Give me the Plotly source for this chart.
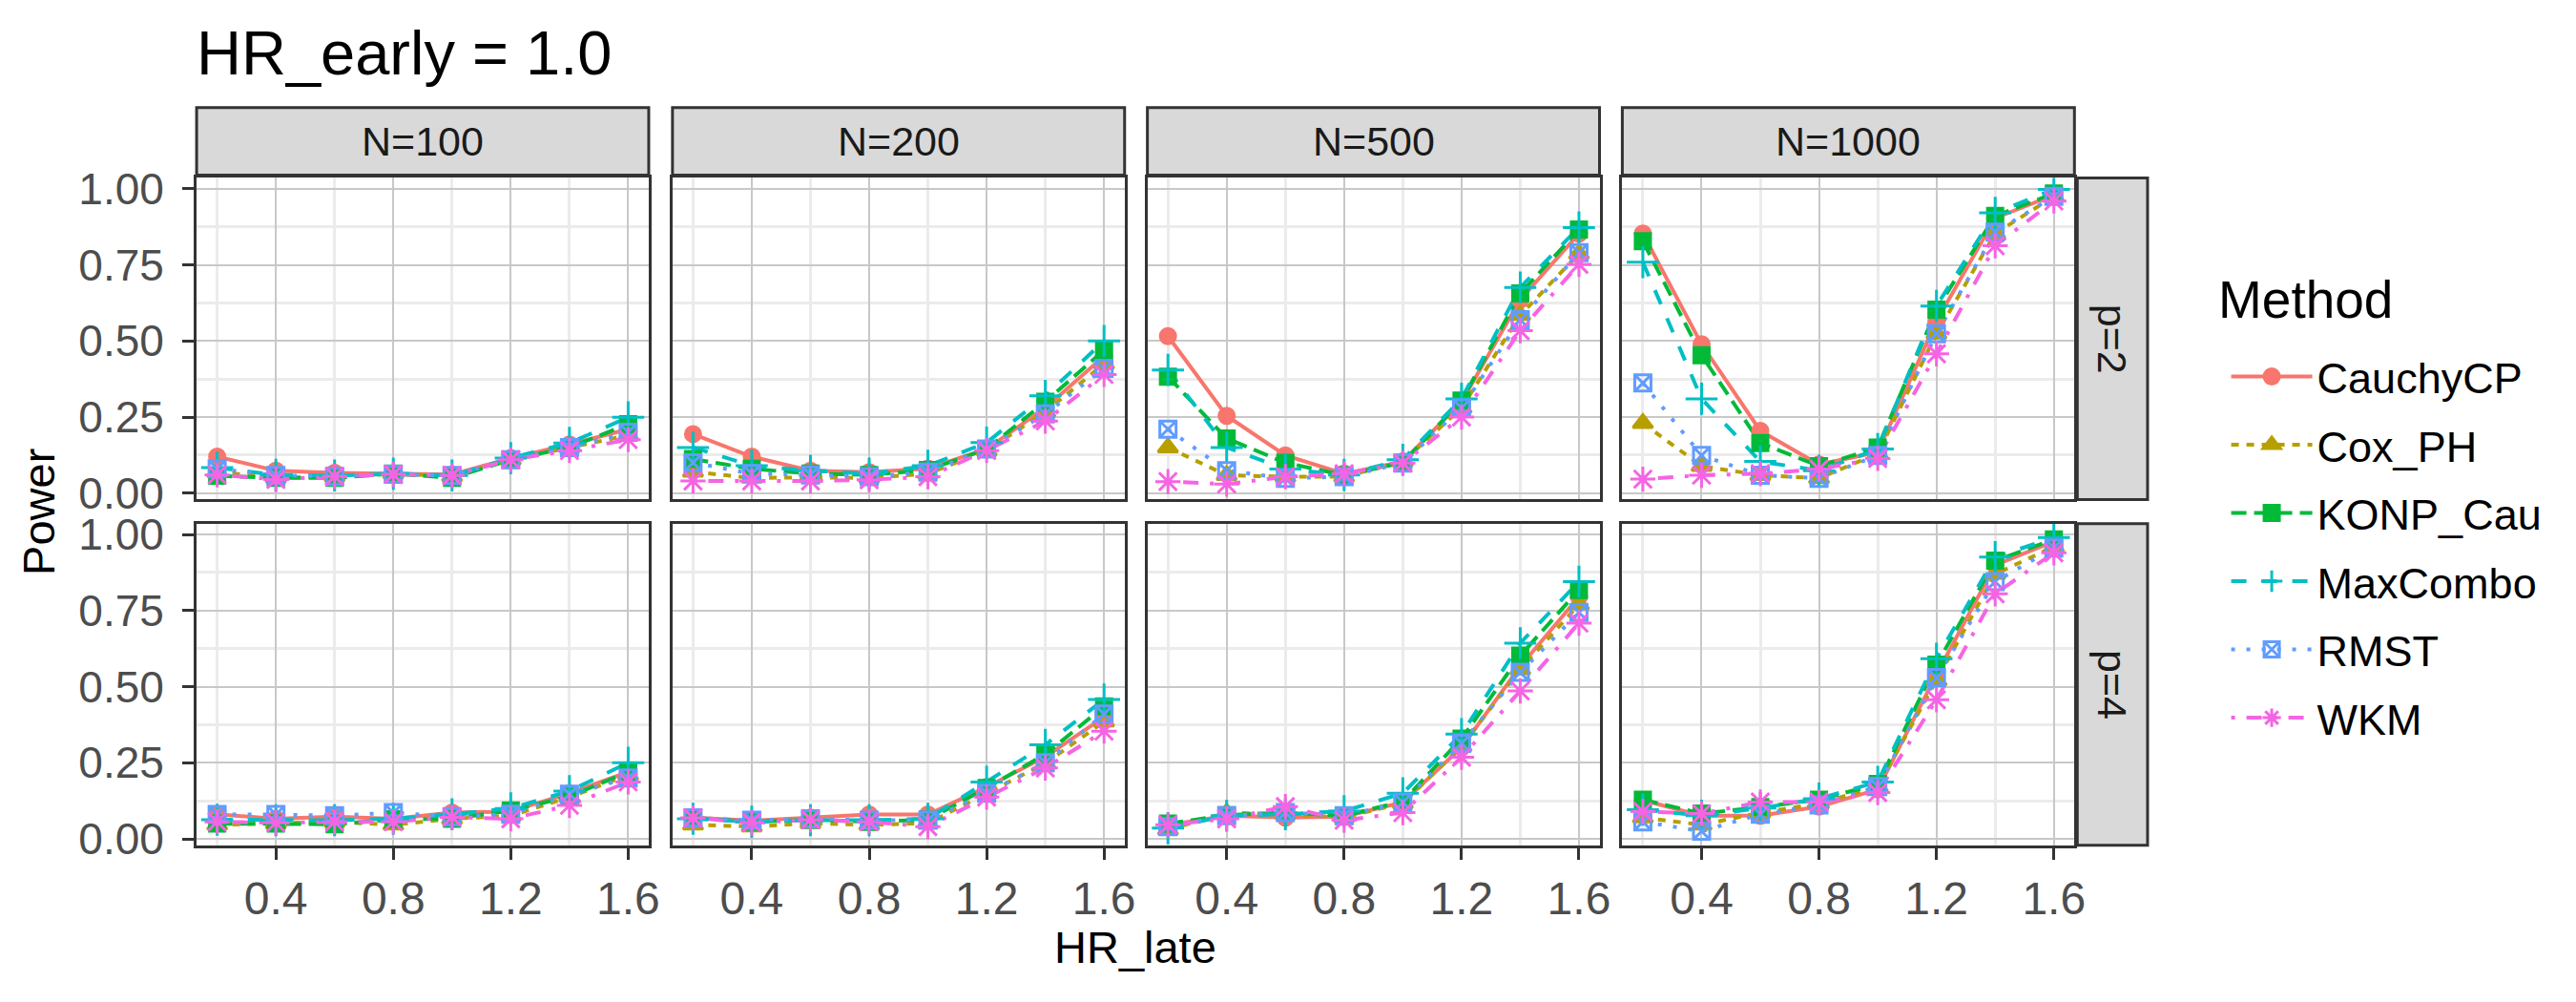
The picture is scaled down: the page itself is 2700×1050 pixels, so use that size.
import plotly.graph_objects as go

# x positions (HR_late)
hr_late = [0.2, 0.4, 0.6, 0.8, 1.0, 1.2, 1.4, 1.6]
n_labels = ["N=100", "N=200", "N=500", "N=1000"]
p_labels = ["p=2", "p=4"]
methods = ["CauchyCP", "Cox_PH", "KONP_Cau", "MaxCombo", "RMST", "WKM"]

# power values, one list per N (100, 200, 500, 1000)
cauchy_p2 = [[0.12, 0.074, 0.067, 0.064, 0.061, 0.115, 0.16, 0.21],
             [0.194, 0.12, 0.074, 0.069, 0.081, 0.145, 0.28, 0.45],
             [0.516, 0.254, 0.124, 0.064, 0.104, 0.30, 0.636, 0.853],
             [0.853, 0.489, 0.205, 0.094, 0.135, 0.565, 0.904, 0.98]]
cox_p2 = [[0.07, 0.05, 0.055, 0.064, 0.055, 0.11, 0.15, 0.19],
          [0.07, 0.05, 0.052, 0.05, 0.064, 0.14, 0.267, 0.425],
          [0.15, 0.059, 0.054, 0.054, 0.104, 0.28, 0.585, 0.787],
          [0.23, 0.089, 0.059, 0.049, 0.13, 0.524, 0.853, 0.975]]
konp_p2 = [[0.057, 0.05, 0.05, 0.064, 0.05, 0.11, 0.15, 0.227],
           [0.112, 0.08, 0.064, 0.06, 0.076, 0.145, 0.30, 0.47],
           [0.383, 0.18, 0.10, 0.059, 0.10, 0.304, 0.656, 0.866],
           [0.828, 0.453, 0.165, 0.089, 0.15, 0.603, 0.911, 0.985]]
maxcombo_p2 = [[0.084, 0.06, 0.058, 0.064, 0.058, 0.115, 0.165, 0.249],
               [0.15, 0.09, 0.074, 0.064, 0.09, 0.166, 0.32, 0.50],
               [0.405, 0.15, 0.079, 0.06, 0.11, 0.31, 0.676, 0.873],
               [0.759, 0.31, 0.104, 0.074, 0.145, 0.615, 0.921, 0.998]]
rmst_p2 = [[0.08, 0.058, 0.055, 0.062, 0.058, 0.11, 0.15, 0.20],
           [0.10, 0.064, 0.06, 0.054, 0.069, 0.145, 0.26, 0.41],
           [0.21, 0.074, 0.049, 0.054, 0.099, 0.28, 0.57, 0.79],
           [0.362, 0.124, 0.059, 0.049, 0.124, 0.524, 0.858, 0.975]]
wkm_p2 = [[0.06, 0.045, 0.055, 0.062, 0.058, 0.11, 0.14, 0.176],
          [0.04, 0.04, 0.04, 0.044, 0.054, 0.14, 0.237, 0.39],
          [0.038, 0.03, 0.054, 0.064, 0.099, 0.25, 0.534, 0.752],
          [0.046, 0.059, 0.064, 0.079, 0.114, 0.458, 0.813, 0.96]]

cauchy_p4 = [[0.081, 0.066, 0.073, 0.066, 0.086, 0.09, 0.15, 0.22],
             [0.07, 0.06, 0.07, 0.08, 0.08, 0.17, 0.27, 0.40],
             [0.046, 0.076, 0.07, 0.073, 0.12, 0.30, 0.567, 0.795],
             [0.127, 0.076, 0.076, 0.106, 0.162, 0.54, 0.90, 0.977]]
cox_p4 = [[0.046, 0.05, 0.056, 0.046, 0.066, 0.076, 0.137, 0.21],
          [0.046, 0.04, 0.051, 0.046, 0.051, 0.15, 0.248, 0.385],
          [0.03, 0.086, 0.081, 0.071, 0.117, 0.304, 0.557, 0.77],
          [0.07, 0.046, 0.086, 0.116, 0.172, 0.52, 0.87, 0.96]]
konp_p4 = [[0.05, 0.05, 0.048, 0.064, 0.066, 0.093, 0.139, 0.22],
           [0.069, 0.056, 0.063, 0.056, 0.063, 0.167, 0.278, 0.435],
           [0.05, 0.078, 0.086, 0.076, 0.123, 0.329, 0.602, 0.818],
           [0.129, 0.083, 0.104, 0.129, 0.18, 0.572, 0.914, 0.984]]
maxcombo_p4 = [[0.063, 0.061, 0.061, 0.066, 0.081, 0.10, 0.157, 0.25],
               [0.066, 0.056, 0.061, 0.061, 0.066, 0.187, 0.309, 0.458],
               [0.035, 0.076, 0.081, 0.091, 0.15, 0.344, 0.643, 0.845],
               [0.096, 0.076, 0.101, 0.132, 0.187, 0.592, 0.926, 0.99]]
rmst_p4 = [[0.08, 0.08, 0.076, 0.086, 0.073, 0.081, 0.147, 0.20],
           [0.069, 0.061, 0.066, 0.061, 0.061, 0.15, 0.25, 0.41],
           [0.04, 0.076, 0.086, 0.076, 0.12, 0.314, 0.547, 0.744],
           [0.056, 0.025, 0.081, 0.111, 0.172, 0.53, 0.845, 0.956]]
wkm_p4 = [[0.056, 0.053, 0.056, 0.056, 0.071, 0.066, 0.11, 0.187],
          [0.069, 0.053, 0.063, 0.056, 0.04, 0.137, 0.233, 0.354],
          [0.046, 0.066, 0.106, 0.061, 0.086, 0.268, 0.486, 0.709],
          [0.09, 0.083, 0.121, 0.121, 0.152, 0.457, 0.805, 0.94]]

data_p = [
    [cauchy_p2, cox_p2, konp_p2, maxcombo_p2, rmst_p2, wkm_p2],
    [cauchy_p4, cox_p4, konp_p4, maxcombo_p4, rmst_p4, wkm_p4],
]

# ggplot-like styling per method
colors = ["#F8766D", "#B79F00", "#00BA38", "#00BFC4", "#619CFF", "#F564E3"]
symbols = ["circle", "triangle-up", "square", "cross-thin-open", "square-x-open", "asterisk-open"]
msizes = [16, 18, 16, 24, 17, 22]
dashes = ["solid", "8px,8px", "16px,8px", "16px,16px", "4px,12px", "4px,12px,16px,12px"]

W, H = 2700, 1050
col_px = [(207, 683), (708, 1184), (1208, 1684), (1708, 2184)]
row_px = [(178, 526), (552, 900)]
FONT = "Liberation Sans, Arial, sans-serif"
border = "#333333"

fig = go.Figure()
layout = {}

for r in range(2):
    for c in range(4):
        k = r * 4 + c + 1
        xn = "x" if k == 1 else f"x{k}"
        yn = "y" if k == 1 else f"y{k}"
        bottom = r == 1
        left = c == 0
        layout["xaxis" if k == 1 else f"xaxis{k}"] = dict(
            domain=[col_px[c][0] / W, col_px[c][1] / W], anchor=yn,
            range=[0.13, 1.67], tickvals=[0.4, 0.8, 1.2, 1.6],
            ticktext=["0.4", "0.8", "1.2", "1.6"],
            showticklabels=bottom, ticks="outside" if bottom else "",
            ticklen=12, tickwidth=3, tickcolor=border,
            tickfont=dict(size=48, color="#4D4D4D", family=FONT),
            showgrid=True, gridcolor="#C8C8C8", gridwidth=1.5,
            minor=dict(tickvals=[0.2, 0.6, 1.0, 1.4], showgrid=True,
                       gridcolor="#EBEBEB", gridwidth=2.5, ticks=""),
            showline=True, mirror=True, linecolor=border, linewidth=3,
            zeroline=False,
        )
        layout["yaxis" if k == 1 else f"yaxis{k}"] = dict(
            domain=[1 - row_px[r][1] / H, 1 - row_px[r][0] / H], anchor=xn,
            range=[-0.021, 1.036], tickvals=[0, 0.25, 0.5, 0.75, 1.0],
            ticktext=["0.00", "0.25", "0.50", "0.75", "1.00"],
            showticklabels=left, ticks="outside" if left else "",
            ticklen=12, tickwidth=3, tickcolor=border, ticklabelstandoff=10,
            tickfont=dict(size=46, color="#4D4D4D", family=FONT),
            showgrid=True, gridcolor="#C8C8C8", gridwidth=1.5,
            minor=dict(tickvals=[0.125, 0.375, 0.625, 0.875], showgrid=True,
                       gridcolor="#EBEBEB", gridwidth=2.5, ticks=""),
            showline=True, mirror=True, linecolor=border, linewidth=3,
            zeroline=False,
        )
        # lines first, then points (ggplot layer order)
        for m in range(6):
            fig.add_trace(go.Scatter(
                x=hr_late, y=data_p[r][m][c], mode="lines", xaxis=xn, yaxis=yn,
                line=dict(color=colors[m], width=4, dash=dashes[m]),
                showlegend=False, hoverinfo="skip"))
        for m in range(6):
            fig.add_trace(go.Scatter(
                x=hr_late, y=data_p[r][m][c], mode="markers", xaxis=xn, yaxis=yn,
                marker=dict(color=colors[m], symbol=symbols[m], size=msizes[m],
                            line=dict(color=colors[m], width=3)),
                showlegend=False, name=methods[m]))

# legend entries
for m in range(6):
    fig.add_trace(go.Scatter(
        x=[None], y=[None], mode="lines+markers", name=methods[m],
        legendgroup=methods[m],
        line=dict(color=colors[m], width=4, dash=dashes[m]),
        marker=dict(color=colors[m], symbol=symbols[m], size=msizes[m],
                    line=dict(color=colors[m], width=3)),
        showlegend=True))

shapes = []
annotations = []
# top strips
for c in range(4):
    shapes.append(dict(type="rect", xref="paper", yref="paper",
                       x0=col_px[c][0] / W, x1=col_px[c][1] / W,
                       y0=1 - 175 / H, y1=1 - 102 / H,
                       fillcolor="#D9D9D9", line=dict(color=border, width=3)))
    annotations.append(dict(text=n_labels[c], xref="paper", yref="paper",
                            x=(col_px[c][0] + col_px[c][1]) / 2 / W, y=1 - 138.5 / H,
                            xanchor="center", yanchor="middle", showarrow=False,
                            font=dict(size=43, color="#1A1A1A", family=FONT)))
# right strips
for r in range(2):
    shapes.append(dict(type="rect", xref="paper", yref="paper",
                       x0=2187 / W, x1=2261 / W,
                       y0=1 - row_px[r][1] / H, y1=1 - row_px[r][0] / H,
                       fillcolor="#D9D9D9", line=dict(color=border, width=3)))
    annotations.append(dict(text=p_labels[r], xref="paper", yref="paper",
                            x=2224 / W, y=1 - (row_px[r][0] + row_px[r][1]) / 2 / H,
                            xanchor="center", yanchor="middle", textangle=90, showarrow=False,
                            font=dict(size=43, color="#1A1A1A", family=FONT)))

# axis titles, legend title and main title
annotations.append(dict(text="Power", xref="paper", yref="paper", x=40 / W, y=1 - 539 / H,
                        xanchor="center", yanchor="middle", textangle=-90, showarrow=False,
                        font=dict(size=47, color="black", family=FONT)))
annotations.append(dict(text="HR_late", xref="paper", yref="paper", x=1195 / W, y=1 - 1010 / H,
                        xanchor="center", yanchor="middle", showarrow=False,
                        font=dict(size=47, color="black", family=FONT)))
annotations.append(dict(text="HR_early = 1.0", xref="paper", yref="paper", x=205 / W, y=1 - 43 / H,
                        xanchor="left", yanchor="middle", showarrow=False,
                        font=dict(size=65, color="black", family=FONT)))
annotations.append(dict(text="Method", xref="paper", yref="paper", x=2333 / W, y=1 - 310 / H,
                        xanchor="left", yanchor="middle", showarrow=False,
                        font=dict(size=55, color="black", family=FONT)))

fig.update_layout(
    width=W, height=H, margin=dict(l=0, r=0, t=0, b=0),
    paper_bgcolor="white", plot_bgcolor="white",
    shapes=shapes, annotations=annotations,
    legend=dict(x=2344 / W, y=1 - 356 / H, xanchor="left", yanchor="top",
                font=dict(size=45, color="black", family=FONT),
                itemwidth=85, tracegroupgap=10, bgcolor="rgba(0,0,0,0)"),
    **layout,
)

fig.write_html("out.html", config={"displayModeBar": False},
               post_script="document.body.style.margin='0px';")
